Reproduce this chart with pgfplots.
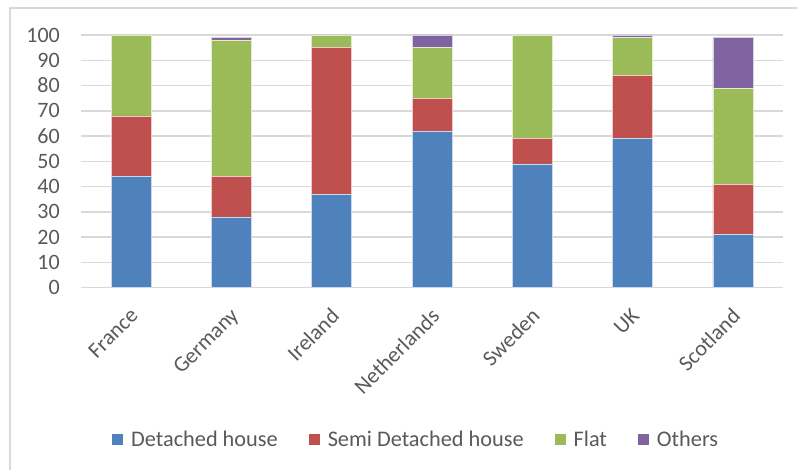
\documentclass[border=0pt]{standalone}
\usepackage{pgfplots}
\pgfplotsset{compat=1.18}
\usepackage{fontspec}
\setmainfont{Carlito}

\definecolor{detached}{HTML}{4F81BD}
\definecolor{semi}{HTML}{C0504D}
\definecolor{flat}{HTML}{9BBB59}
\definecolor{others}{HTML}{8064A2}
\definecolor{gridgray}{HTML}{D9D9D9}
\definecolor{labelgray}{HTML}{595959}

\pgfplotsset{
  sq legend/.style={legend image code/.code={%
    \fill[##1,draw=none] (0bp,-5.5bp) rectangle (11bp,5.5bp);}},
}

\begin{document}
\begin{tikzpicture}[x=1bp,y=1bp]
\useasboundingbox (0,0) rectangle (797,470);
% chart frame
\draw[gridgray, line width=2bp] (10,-5) -- (10,462) -- (805,462);
\begin{axis}[
  at={(81bp,182.3bp)}, anchor=south west,
  scale only axis, width=702bp, height=252.7bp,
  ybar stacked, bar width=40bp,
  xmin=-0.5, xmax=6.5, ymin=0, ymax=100,
  axis line style={draw=none},
  major tick length=0pt,
  ytick={0,10,...,100},
  ymajorgrids, grid style={gridgray, line width=1.5bp},
  xtick={0,...,6},
  xticklabels={France,Germany,Ireland,Netherlands,Sweden,UK,Scotland},
  /pgf/number format/assume math mode=true,
  tick label style={font=\fontsize{22bp}{26bp}\selectfont, text=labelgray},
  yticklabel style={anchor=east, inner sep=0pt, xshift=-21bp},
  xticklabel style={anchor=north east, inner sep=0pt, xshift=-2bp, yshift=-19bp, rotate=45},
  legend columns=4,
  legend style={at={(0.476,-0.599)}, anchor=center, draw=none, fill=none,
    font=\fontsize{22.3bp}{26bp}\selectfont, text=labelgray,
    /tikz/every even column/.append style={column sep=31bp},
    nodes={inner sep=0pt}},
  legend cell align=left,
]
% Detached house
\addplot[fill=detached, draw=white!70!detached, line width=0.6bp, sq legend]
  coordinates {(0,44) (1,28) (2,37) (3,62) (4,49) (5,59) (6,21)};
% Semi detached house
\addplot[fill=semi, draw=white!70!semi, line width=0.6bp, sq legend]
  coordinates {(0,24) (1,16) (2,58) (3,13) (4,10) (5,25) (6,20)};
% Flat
\addplot[fill=flat, draw=white!70!flat, line width=0.6bp, sq legend]
  coordinates {(0,32) (1,54) (2,4.7) (3,20) (4,41) (5,15) (6,38)};
% Others
\addplot[fill=others, draw=white!70!others, line width=0.6bp, sq legend]
  coordinates {(0,0) (1,1) (2,0.3) (3,5) (4,0) (5,1) (6,20)};
\legend{\hspace{8bp}Detached house,\hspace{8bp}Semi Detached house,\hspace{8bp}Flat,\hspace{8bp}Others}
\end{axis}
\end{tikzpicture}
\end{document}
